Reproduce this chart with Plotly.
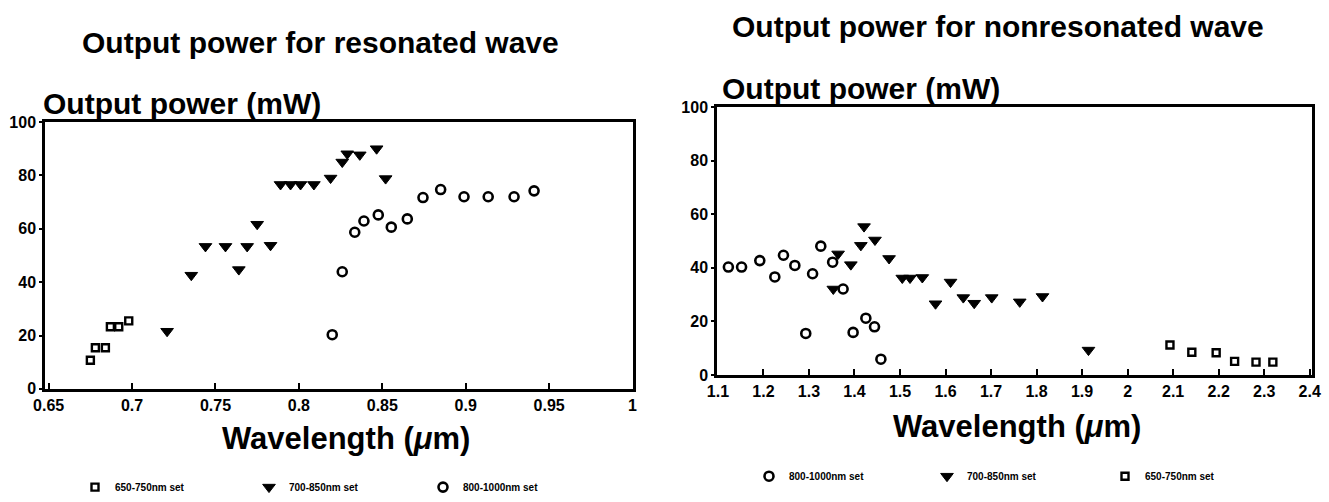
import plotly.graph_objects as go

# ---------------- data ----------------
# Left chart: resonated wave
res_650_x = [0.675, 0.678, 0.684, 0.687, 0.692, 0.698]
res_650_y = [10.7, 15.4, 15.4, 23.3, 23.3, 25.5]
res_700_x = [0.721, 0.7355, 0.744, 0.756, 0.764, 0.769, 0.775, 0.783, 0.789,
             0.795, 0.801, 0.809, 0.819, 0.826, 0.829, 0.8365, 0.8466, 0.852]
res_700_y = [21.6, 42.6, 53.4, 53.4, 44.7, 53.4, 61.7, 53.8, 76.6,
             76.6, 76.6, 76.6, 79.0, 85.0, 88.1, 87.7, 90.0, 78.8]
res_800_x = [0.820, 0.826, 0.8335, 0.839, 0.8476, 0.8554, 0.865, 0.8744,
             0.885, 0.899, 0.9135, 0.929, 0.941]
res_800_y = [20.3, 43.9, 58.7, 62.9, 65.2, 60.6, 63.7, 71.7,
             74.7, 72.0, 72.0, 72.0, 74.2]

# Right chart: nonresonated wave
non_800_x = [1.123, 1.152, 1.192, 1.225, 1.244, 1.269, 1.293, 1.308, 1.326,
             1.352, 1.375, 1.397, 1.425, 1.444, 1.458]
non_800_y = [40.3, 40.3, 42.7, 36.6, 44.7, 40.9, 15.5, 37.8, 48.1,
             42.1, 32.1, 15.9, 21.2, 18.0, 5.9]
non_700_x = [1.3535, 1.364, 1.392, 1.414, 1.421, 1.445, 1.476, 1.505, 1.522,
             1.549, 1.578, 1.611, 1.639, 1.663, 1.7015, 1.763, 1.813, 1.914]
non_700_y = [32.1, 45.2, 41.2, 48.4, 55.4, 50.4, 43.5, 36.2, 36.2,
             36.4, 26.6, 34.7, 28.9, 26.8, 28.9, 27.3, 29.3, 9.3]
non_650_x = [2.093, 2.141, 2.1945, 2.235, 2.282, 2.319]
non_650_y = [11.2, 8.5, 8.3, 5.1, 4.8, 4.8]

left_xticks = [0.65, 0.7, 0.75, 0.8, 0.85, 0.9, 0.95, 1.0]
left_xticktext = ["0.65", "0.7", "0.75", "0.8", "0.85", "0.9", "0.95", "1"]
right_xticks = [1.1, 1.2, 1.3, 1.4, 1.5, 1.6, 1.7, 1.8, 1.9, 2.0, 2.1, 2.2, 2.3, 2.4]
right_xticktext = ["1.1", "1.2", "1.3", "1.4", "1.5", "1.6", "1.7", "1.8", "1.9",
                   "2", "2.1", "2.2", "2.3", "2.4"]
y_ticks = [0, 20, 40, 60, 80, 100]

lbl_650 = "650-750nm set"
lbl_700 = "700-850nm set"
lbl_800 = "800-1000nm set"

# ---------------- figure ----------------
W, H = 1329, 502
FONT = "Liberation Sans, Arial, sans-serif"

def px(x):
    return x / W

def py(y):
    return (H - y) / H

circ = dict(symbol="circle-open", size=9, color="black", line=dict(width=2.6, color="black"))
tri = dict(symbol="triangle-down", size=11, color="black", line=dict(width=1, color="black"))
sq = dict(symbol="square-open", size=7, color="black", line=dict(width=2.4, color="black"))

fig = go.Figure()
fig.add_trace(go.Scatter(x=res_650_x, y=res_650_y, mode="markers", marker=sq,
                         name=lbl_650, xaxis="x", yaxis="y", legend="legend"))
fig.add_trace(go.Scatter(x=res_700_x, y=res_700_y, mode="markers", marker=tri,
                         name=lbl_700, xaxis="x", yaxis="y", legend="legend"))
fig.add_trace(go.Scatter(x=res_800_x, y=res_800_y, mode="markers", marker=circ,
                         name=lbl_800, xaxis="x", yaxis="y", legend="legend"))

fig.add_trace(go.Scatter(x=non_800_x, y=non_800_y, mode="markers", marker=circ,
                         name=lbl_800, xaxis="x2", yaxis="y2", legend="legend2"))
fig.add_trace(go.Scatter(x=non_700_x, y=non_700_y, mode="markers", marker=tri,
                         name=lbl_700, xaxis="x2", yaxis="y2", legend="legend2"))
fig.add_trace(go.Scatter(x=non_650_x, y=non_650_y, mode="markers", marker=sq,
                         name=lbl_650, xaxis="x2", yaxis="y2", legend="legend2"))

tickfont = dict(family=FONT, size=16, color="black", weight="bold")
common_x = dict(showline=True, linecolor="black", linewidth=2.5, mirror=True,
                ticks="inside", ticklen=6, tickwidth=2, tickcolor="black",
                showgrid=False, zeroline=False, tickfont=tickfont, automargin=False,
                tickmode="array")
common_y = dict(showline=True, linecolor="black", linewidth=2.5, mirror=True,
                ticks="outside", ticklen=3, tickwidth=2, tickcolor="black",
                showgrid=False, zeroline=False, tickfont=tickfont, automargin=False,
                tickmode="array", tickvals=y_ticks, range=[0, 100])

legfont = dict(family=FONT, size=10, color="black", weight="bold")
fig.update_layout(
    template="none",
    width=W, height=H,
    margin=dict(l=0, r=0, t=0, b=0),
    paper_bgcolor="white", plot_bgcolor="white",
    font=dict(family=FONT, color="black"),
    xaxis=dict(domain=[px(45), px(633)], range=[0.6478, 1.0003],
               tickvals=left_xticks, ticktext=left_xticktext, anchor="y", **common_x),
    yaxis=dict(domain=[py(392), py(123)], anchor="x", **common_y),
    xaxis2=dict(domain=[px(717), px(1312)], range=[1.098, 2.405],
                tickvals=right_xticks, ticktext=right_xticktext, anchor="y2", **common_x),
    yaxis2=dict(domain=[py(378), py(108)], anchor="x2", **common_y),
    legend=dict(orientation="h", x=px(75), y=py(491), xanchor="left", yanchor="middle",
                entrywidth=129, entrywidthmode="pixels", bgcolor="rgba(0,0,0,0)",
                font=legfont),
    legend2=dict(orientation="h", x=px(749), y=py(480), xanchor="left", yanchor="middle",
                 entrywidth=133, entrywidthmode="pixels", bgcolor="rgba(0,0,0,0)",
                 font=legfont),
)

title_font = dict(family=FONT, size=30, color="black", weight="bold")
xt_font = dict(family=FONT, size=31, color="black", weight="bold")
annos = [
    dict(text="Output power for resonated wave", x=px(80), y=py(43), xanchor="left",
         yanchor="middle", font=title_font),
    dict(text="Output power for nonresonated wave", x=px(730), y=py(27), xanchor="left",
         yanchor="middle", font=title_font),
    dict(text="Output power (mW)", x=px(41), y=py(104), xanchor="left",
         yanchor="middle", font=title_font),
    dict(text="Output power (mW)", x=px(720), y=py(89), xanchor="left",
         yanchor="middle", font=title_font),
    dict(text="Wavelength (<i>μ</i>m)", x=px(346), y=py(442), xanchor="center",
         yanchor="middle", font=xt_font),
    dict(text="Wavelength (<i>μ</i>m)", x=px(1017), y=py(430), xanchor="center",
         yanchor="middle", font=xt_font),
]
for a in annos:
    fig.add_annotation(xref="paper", yref="paper", showarrow=False, **a)

fig.write_html("out.html", config={"displayModeBar": False},
               post_script="document.body.style.margin='0';")
